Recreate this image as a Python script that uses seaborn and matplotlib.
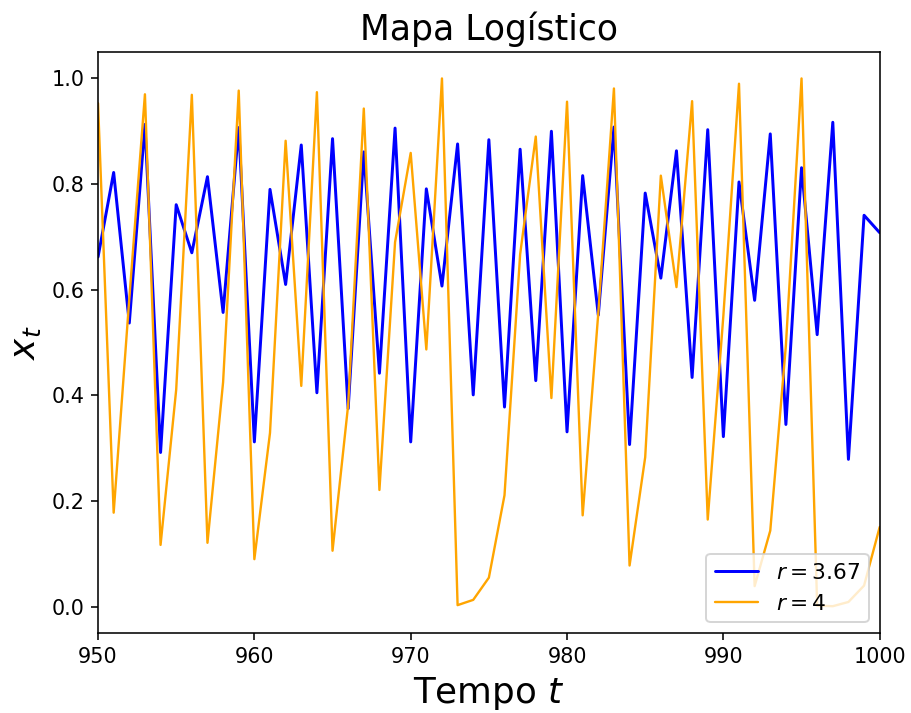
import pandas as pd
import seaborn as sns
import matplotlib.pyplot as plt

# Time steps 950..1000
tempo = list(range(950, 1001))

# Values
x_r367 = [0.662, 0.822, 0.537, 0.913, 0.292, 0.761, 0.670, 0.814, 0.557, 0.907,
          0.312, 0.790, 0.610, 0.874, 0.405, 0.886, 0.375, 0.861, 0.442, 0.906,
          0.312, 0.791, 0.607, 0.876, 0.401, 0.884, 0.378, 0.866, 0.428, 0.900,
          0.331, 0.816, 0.552, 0.908, 0.307, 0.783, 0.622, 0.863, 0.434, 0.903,
          0.322, 0.804, 0.580, 0.895, 0.345, 0.831, 0.515, 0.917, 0.279, 0.741,
          0.708]

x_r4 = [0.953, 0.178, 0.583, 0.970, 0.117, 0.411, 0.969, 0.121, 0.425, 0.977,
        0.090, 0.329, 0.882, 0.418, 0.974, 0.106, 0.382, 0.943, 0.221, 0.690,
        0.859, 0.487, 1.000, 0.003, 0.013, 0.055, 0.211, 0.667, 0.890, 0.395,
        0.956, 0.173, 0.556, 0.981, 0.078, 0.283, 0.816, 0.605, 0.957, 0.165,
        0.551, 0.990, 0.039, 0.144, 0.495, 1.000, 0.002, 0.001, 0.009, 0.040,
        0.151]

df1 = pd.DataFrame({"t": tempo, "x": x_r367})
df2 = pd.DataFrame({"t": tempo, "x": x_r4})

# plain black axes / text, like the default matplotlib look
sns.set_style("ticks", {"axes.edgecolor": "black", "text.color": "black",
                        "axes.labelcolor": "black", "xtick.color": "black",
                        "ytick.color": "black"})
plt.rcParams['font.family'] = ['DejaVu Sans']

fig = plt.figure(figsize=(6.4, 5.009), dpi=142.35)
ax = fig.add_axes([0.1076, 0.112, 0.858, 0.815])

sns.lineplot(data=df1, x="t", y="x", color="blue", linewidth=1.5, label=r"$r = 3.67$", ax=ax)
sns.lineplot(data=df2, x="t", y="x", color="orange", linewidth=1.2, label=r"$r = 4$", ax=ax)

ax.set_xlim(950, 1000)
ax.set_ylim(-0.05, 1.05)
ax.set_title("Mapa Logístico", fontsize=17.5)
ax.set_xlabel(r"Tempo $t$", fontsize=18)
ax.set_ylabel(r"$x_t$", fontsize=18)
ax.tick_params(labelsize=10.5)
ax.legend(loc="lower right", fontsize=11)

fig.savefig("out.png", dpi=142.35)
